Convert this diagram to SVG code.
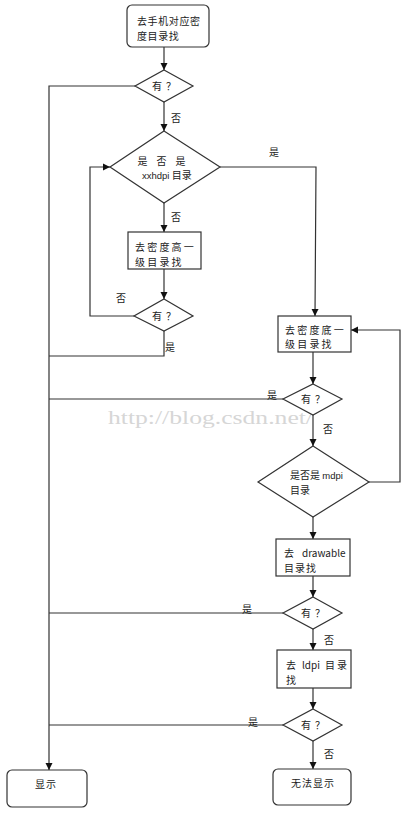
<svg xmlns="http://www.w3.org/2000/svg" width="409" height="814" viewBox="0 0 409 814">
<style>
.s{fill:#fff;stroke:#333;stroke-width:1.2}
.c{fill:none;stroke:#333;stroke-width:1.2}
.t{font-family:"Noto Sans CJK SC","Liberation Sans",sans-serif;font-size:10px;fill:#222}
.l{font-family:"Noto Sans CJK SC","Liberation Sans",sans-serif;font-size:10px;fill:#222;text-anchor:middle}
.m{text-anchor:middle}
.q{letter-spacing:4px}
.e{font-family:"Liberation Sans",sans-serif;font-size:9.5px}
.w{font-family:"Liberation Serif",serif;font-size:19px;fill:#d6d6d6}
</style>
<defs>
<marker id="a" markerWidth="8" markerHeight="8" refX="7" refY="4" orient="auto" markerUnits="userSpaceOnUse">
<path d="M0,0.5 L7,4 L0,7.5 Z" fill="#111"/>
</marker>
</defs>
<rect width="409" height="814" fill="#fff"/>
<text class="w" x="108" y="424" textLength="205" lengthAdjust="spacingAndGlyphs">http://blog.csdn.net/</text>
<g id="connectors">
<path class="c" d="M164,47 V70" marker-end="url(#a)"/>
<path class="c" d="M135,86 H49 V770" marker-end="url(#a)"/>
<path class="c" d="M164,102 V131" marker-end="url(#a)"/>
<path class="c" d="M220,167 H316 L315,316" marker-end="url(#a)"/>
<path class="c" d="M164,203 V232" marker-end="url(#a)"/>
<path class="c" d="M164,269 V299" marker-end="url(#a)"/>
<path class="c" d="M134,316 H90 V167 H110" marker-end="url(#a)"/>
<path class="c" d="M164,331 V356 H49"/>
<path class="c" d="M313,352 V384" marker-end="url(#a)"/>
<path class="c" d="M283,399 H49"/>
<path class="c" d="M313,415 V446" marker-end="url(#a)"/>
<path class="c" d="M369,482 H400 V330 H351" marker-end="url(#a)"/>
<path class="c" d="M313,517 V539" marker-end="url(#a)"/>
<path class="c" d="M313,576 V597" marker-end="url(#a)"/>
<path class="c" d="M283,613 H49"/>
<path class="c" d="M313,629 V650" marker-end="url(#a)"/>
<path class="c" d="M313,688 V709" marker-end="url(#a)"/>
<path class="c" d="M283,725 H49"/>
<path class="c" d="M313,741 V769" marker-end="url(#a)"/>
<text class="l" x="176" y="122">否</text>
<text class="l" x="274" y="156">是</text>
<text class="l" x="176" y="221">否</text>
<text class="l" x="121" y="302">否</text>
<text class="l" x="170" y="351">是</text>
<text class="l" x="272" y="399">是</text>
<text class="l" x="328" y="433">否</text>
<text class="l" x="247" y="613">是</text>
<text class="l" x="329" y="644">否</text>
<text class="l" x="253" y="726">是</text>
<text class="l" x="329" y="758">否</text>
</g>
<g id="start">
<rect class="s" x="127" y="5" width="82" height="42" rx="5"/>
<text class="t" x="137" y="25" letter-spacing="0.6">去手机对应密</text>
<text class="t" x="137" y="40" letter-spacing="0.6">度目录找</text>
</g>
<g id="d1">
<polygon class="s" points="164,70 193,86 164,102 135,86"/>
<text class="t m q" x="166" y="90">有？</text>
</g>
<g id="d2">
<polygon class="s" points="164,131 220,167 164,203 110,167"/>
<text class="t m" x="166" y="165" letter-spacing="9">是否是</text>
<text class="t" x="142" y="179"><tspan class="e">xxhdpi</tspan> 目录</text>
</g>
<g id="b2">
<rect class="s" x="128" y="232" width="73" height="37"/>
<text class="t" x="135" y="251" letter-spacing="2.2">去密度高一</text>
<text class="t" x="135" y="266" letter-spacing="2.2">级目录找</text>
</g>
<g id="d3">
<polygon class="s" points="164,299 193,316 164,331 134,316"/>
<text class="t m q" x="166" y="320">有？</text>
</g>
<g id="b3">
<rect class="s" x="278" y="316" width="73" height="36"/>
<text class="t" x="285" y="334" letter-spacing="2.2">去密度底一</text>
<text class="t" x="285" y="348" letter-spacing="2.2">级目录找</text>
</g>
<g id="d4">
<polygon class="s" points="313,384 342,399 313,415 283,399"/>
<text class="t m q" x="315" y="403">有？</text>
</g>
<g id="d5">
<polygon class="s" points="313,446 369,482 313,517 258,482"/>
<text class="t" x="290" y="479">是否是 <tspan class="e">mdpi</tspan></text>
<text class="t" x="290" y="494">目录</text>
</g>
<g id="b4">
<rect class="s" x="276" y="539" width="74" height="37"/>
<text class="t" x="284" y="557">去</text>
<text class="t" x="302" y="557" font-family="Liberation Sans" font-size="10.5">drawable</text>
<text class="t" x="284" y="572" letter-spacing="1">目录找</text>
</g>
<g id="d6">
<polygon class="s" points="313,597 342,613 313,629 283,613"/>
<text class="t m q" x="315" y="617">有？</text>
</g>
<g id="b5">
<rect class="s" x="277" y="650" width="74" height="38"/>
<text class="t" x="286" y="669">去</text>
<text class="t" x="302" y="669" font-family="Liberation Sans" font-size="10.5">ldpi</text>
<text class="t" x="325" y="669" letter-spacing="2">目录</text>
<text class="t" x="286" y="684">找</text>
</g>
<g id="d7">
<polygon class="s" points="313,709 342,725 313,741 283,725"/>
<text class="t m q" x="315" y="729">有？</text>
</g>
<g id="end">
<rect class="s" x="273" y="769" width="78" height="36" rx="5"/>
<text class="t m" x="313" y="787" letter-spacing="1">无法显示</text>
</g>
<g id="show">
<rect class="s" x="7" y="770" width="80" height="37" rx="5"/>
<text class="t m" x="46" y="788" letter-spacing="1">显示</text>
</g>
</svg>
